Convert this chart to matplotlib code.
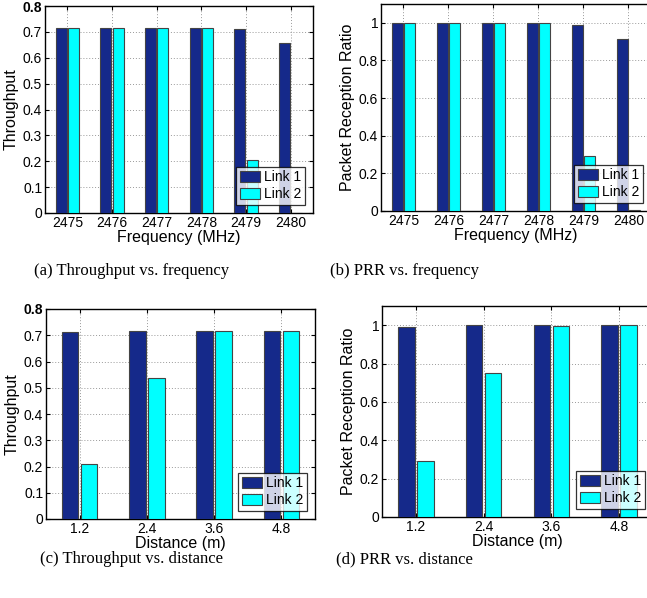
import matplotlib
matplotlib.use("Agg")
import matplotlib.pyplot as plt
import numpy as np

freq_labels = ["2475", "2476", "2477", "2478", "2479", "2480"]
thr_freq_link1 = [0.716, 0.716, 0.716, 0.716, 0.711, 0.657]
thr_freq_link2 = [0.716, 0.716, 0.716, 0.716, 0.205, 0.0]
prr_freq_link1 = [0.998, 0.998, 0.999, 0.998, 0.991, 0.915]
prr_freq_link2 = [0.999, 0.999, 0.999, 0.999, 0.293, 0.006]

dist_labels = ["1.2", "2.4", "3.6", "4.8"]
thr_dist_link1 = [0.711, 0.716, 0.716, 0.716]
thr_dist_link2 = [0.209, 0.538, 0.716, 0.716]
prr_dist_link1 = [0.993, 1.0, 1.0, 1.0]
prr_dist_link2 = [0.292, 0.753, 0.998, 0.999]

series_names = ["Link 1", "Link 2"]
captions = ["(a) Throughput vs. frequency", "(b) PRR vs. frequency",
            "(c) Throughput vs. distance", "(d) PRR vs. distance"]

C1 = "#15298A"
C2 = "#00FFFF"
SANS = "Liberation Sans"

W, H = 647, 598
fig = plt.figure(figsize=(W / 100, H / 100), dpi=100)

def px_axes(l, r, b, t):
    return fig.add_axes([l / W, 1 - b / H, (r - l) / W, (b - t) / H])

def draw(ax, labels, v1, v2, ylim, yticks, yticklabels, xlabel, ylabel):
    n = len(labels)
    x = np.arange(1, n + 1)
    w = 0.245
    off = 0.14
    ax.bar(x - off, v1, w, color=C1, edgecolor="#444444", linewidth=0.8, label=series_names[0], zorder=3)
    ax.bar(x + off, v2, w, color=C2, edgecolor="#444444", linewidth=0.8, label=series_names[1], zorder=3)
    ax.set_xlim(0.5, n + 0.5)
    ax.set_ylim(*ylim)
    ax.set_xticks(x)
    ax.set_xticklabels(labels, fontsize=10, family=SANS)
    ax.set_yticks(yticks)
    ax.set_yticklabels(yticklabels, fontsize=10, family=SANS)
    ax.tick_params(direction="in", length=3, width=0.8, pad=2, top=True, right=True)
    ax.grid(True, linestyle=(0, (1, 2)), color="#999999", linewidth=0.7, zorder=0)
    ax.set_axisbelow(True)
    for s in ax.spines.values():
        s.set_linewidth(1.0)
    ax.set_xlabel(xlabel, fontsize=11.5, family=SANS, labelpad=0)
    ax.set_ylabel(ylabel, fontsize=11.5, family=SANS, labelpad=3)
    leg = ax.legend(loc="lower right", prop={"family": SANS, "size": 10},
                    frameon=True, fancybox=False, edgecolor="black",
                    borderpad=0.25, handlelength=1.45, handleheight=0.9,
                    handletextpad=0.3, labelspacing=0.2, borderaxespad=0.6)
    leg.get_frame().set_linewidth(0.9)
    leg.set_zorder(5)
    return ax

thr_ticks = [0, 0.1, 0.2, 0.3, 0.4, 0.5, 0.6, 0.7, 0.8]
thr_labels = ["0", "0.1", "0.2", "0.3", "0.4", "0.5", "0.6", "0.7", "0.8"]
prr_ticks = [0, 0.2, 0.4, 0.6, 0.8, 1.0]
prr_labels = ["0", "0.2", "0.4", "0.6", "0.8", "1"]

ax_a = px_axes(45, 313, 213, 6)
draw(ax_a, freq_labels, thr_freq_link1, thr_freq_link2, (0, 0.8), thr_ticks, thr_labels,
     "Frequency (MHz)", "Throughput")
ax_a.get_yticklabels()[-1].set_fontweight("bold")

ax_b = px_axes(381, 651, 211, 4)
draw(ax_b, freq_labels, prr_freq_link1, prr_freq_link2, (0, 1.1), prr_ticks, prr_labels,
     "Frequency (MHz)", "Packet Reception Ratio")

ax_c = px_axes(46, 315, 519, 309)
draw(ax_c, dist_labels, thr_dist_link1, thr_dist_link2, (0, 0.8), thr_ticks, thr_labels,
     "Distance (m)", "Throughput")
ax_c.get_yticklabels()[-1].set_fontweight("bold")

ax_d = px_axes(382, 653, 517, 306)
draw(ax_d, dist_labels, prr_dist_link1, prr_dist_link2, (0, 1.1), prr_ticks, prr_labels,
     "Distance (m)", "Packet Reception Ratio")

SERIF = "Liberation Serif"
fig.text(132 / W, 1 - 271 / H, captions[0], ha="center", va="center", fontsize=12, family=SERIF)
fig.text(404 / W, 1 - 271 / H, captions[1], ha="center", va="center", fontsize=12, family=SERIF)
fig.text(132 / W, 1 - 559 / H, captions[2], ha="center", va="center", fontsize=12, family=SERIF)
fig.text(404 / W, 1 - 559 / H, captions[3], ha="center", va="center", fontsize=12, family=SERIF)

fig.savefig("out.png", dpi=100)
